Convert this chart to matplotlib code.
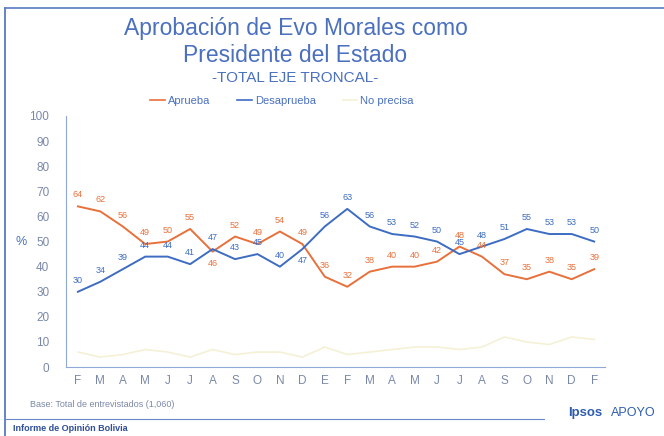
import matplotlib.pyplot as plt
from matplotlib.lines import Line2D

plt.rcParams['font.family'] = ['Liberation Sans', 'DejaVu Sans']

months = ["F", "M", "A", "M", "J", "J", "A", "S", "O", "N", "D", "E",
          "F", "M", "A", "M", "J", "J", "A", "S", "O", "N", "D", "F"]
aprueba = [64, 62, 56, 49, 50, 55, 46, 52, 49, 54, 49, 36,
           32, 38, 40, 40, 42, 48, 44, 37, 35, 38, 35, 39]
desaprueba = [30, 34, 39, 44, 44, 41, 47, 43, 45, 40, 47, 56,
              63, 56, 53, 52, 50, 45, 48, 51, 55, 53, 53, 50]
no_precisa = [6, 4, 5, 7, 6, 4, 7, 5, 6, 6, 4, 8,
              5, 6, 7, 8, 8, 7, 8, 12, 10, 9, 12, 11]

orange = "#E8703A"
blue = "#3D6CC2"
yellow = "#F5F1D6"
txt = "#4A70BE"
tick_col = "#7A88A8"

fig = plt.figure(figsize=(6.64, 4.36), dpi=100)
ax = fig.add_axes([0.0994, 0.158, 0.812, 0.576])

x = list(range(len(months)))
ax.plot(x, no_precisa, color=yellow, lw=1.2)
ax.plot(x, aprueba, color=orange, lw=1.4)
ax.plot(x, desaprueba, color=blue, lw=1.4)


def put(i, v, other, col):
    # where the two lines almost meet, the lower value goes under its point
    below = abs(v - other) <= 2 and v < other
    off = (0, -5) if below else (0, 5)
    ax.annotate(str(v), (i, v), xytext=off, textcoords="offset points",
                ha="center", va="top" if below else "bottom",
                fontsize=6.5, color=col)


for i in x:
    put(i, aprueba[i], desaprueba[i], orange)
    put(i, desaprueba[i], aprueba[i], blue)

ax.set_xlim(-0.53, 23.49)
ax.set_ylim(0, 100)
ax.set_yticks(range(0, 101, 10))
ax.set_xticks(x)
ax.set_xticklabels(months)
ax.tick_params(axis="both", length=0, colors=tick_col, labelsize=8.5)
ax.tick_params(axis="y", pad=12)
ax.tick_params(axis="x", pad=6)
for s in ["top", "right"]:
    ax.spines[s].set_visible(False)
for s in ["left", "bottom"]:
    ax.spines[s].set_color("#8FA8D8")
ax.set_ylabel("%", rotation=0, color=txt, fontsize=9, labelpad=6, va="center")

# titles
fig.text(0.445, 0.935, "Aprobación de Evo Morales como", ha="center", va="center",
         fontsize=16.5, color=txt)
fig.text(0.445, 0.873, "Presidente del Estado", ha="center", va="center",
         fontsize=16.5, color=txt)
fig.text(0.445, 0.82, "-TOTAL EJE TRONCAL-", ha="center", va="center",
         fontsize=11, color=txt)

handles = [Line2D([], [], color=orange, lw=1.2),
           Line2D([], [], color=blue, lw=1.2),
           Line2D([], [], color=yellow, lw=1.2)]
fig.legend(handles, ["Aprueba", "Desaprueba", "No precisa"], loc="center",
           bbox_to_anchor=(0.425, 0.768), ncol=3, frameon=False, fontsize=8,
           labelcolor=txt, handlelength=1.3, handletextpad=0.3, columnspacing=2.4)

# frame and footer
fig.add_artist(Line2D([0.008, 0.008], [0, 0.982], color="#4A70BE", lw=1.2))
fig.add_artist(Line2D([0.008, 1.0], [0.982, 0.982], color="#5A7CC4", lw=1.2))
fig.add_artist(Line2D([0.008, 0.82], [0.039, 0.039], color="#6A88C8", lw=0.8))
fig.text(0.045, 0.072, "Base: Total de entrevistados (1,060)", fontsize=6.5,
         color=tick_col, va="center")
fig.text(0.02, 0.018, "Informe de Opinión Bolivia", fontsize=6.5,
         color="#2E4E96", va="center", weight="bold")
fig.text(0.855, 0.052, "Ipsos", fontsize=9.5, color="#2E5DB0", va="center",
         weight="bold")
fig.text(0.92, 0.052, "APOYO", fontsize=9, color="#2E5DB0", va="center")

fig.savefig("out.png", dpi=100)
